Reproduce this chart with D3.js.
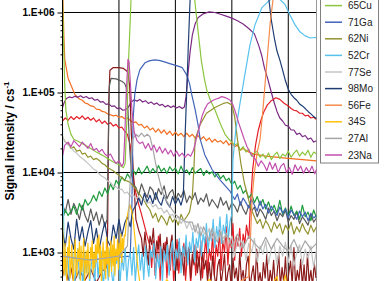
<!doctype html>
<html lang="en">
<head>
<meta charset="utf-8">
<title>Signal intensity profile</title>
<script src="https://d3js.org/d3.v7.min.js"></script>
<style>
    body { margin: 0; background: #fff; }
    svg { display: block; font-family: Arial, "Liberation Sans", sans-serif; }
</style>
</head>
<body>
<svg id="chart" width="391" height="281"></svg>
<script>
// traces are [time, counts per second];
// the noisy stretches are kept as plain value lists on an even time step
function sampled(t0, step, values) {
    return values.map(function(v, i) { return [+(t0 + i * step).toFixed(3), v]; });
}

var s34Low = [800,520,1300,610,450,1150,900,1600,480,700,1250,560,420,980,1450,620,510,1100,780,1350,
    450,1200,580,900,1500,400,760,1050,530,1300,690,470,1150,850,1400,560,1000,640,1250,760,
    1500,980,1650,540,1200,430,880,1350,600,1050,470,1550,720,1150,500,950,1400,580,1250,680,
    1600,520,1100,800,1450,620,1300,900,1700,750,1500,1100,1650];
var cr52Low = [900,520,1050,430,760,1000,380,640,1120,470,820,350,980,560,1080,420,700,930,390,1150,
    480,860,1020,370,640,990,450,1100,560,380,920,730,1050,410,880,600,1130,440,790,1000,
    520,1150,430,870,1250,600,980,460,1200,720,500,1080,860,1300,470,950,640,1180,420,1050,
    780,1250,520,960,1400,600,1100,850,1500,560,1200,900,1650,700,1350,1000,1800,760,1500,1150,
    2000,900,1700,1300,2300,1000,1900,1400,2600,1150,2100,1500,2800,1300,2200,1700,3000,1500,2500];
var maroonLow = [1500,900,1800,1100,700,1600,1250,2000,850,1400,1100,1700,650,1300,950,1550,800,1200,1650,700,
    1100,600,1350,900,1000,520,1250,750,1100,480,950,700,1200,560,880,450,1000,620,800,430,
    750,420,900,520,380,680,820,400,600,950,380,560,700,350,850,480,640,380,1000,450,
    600,380,720,900,350,520,680,380,1100,420,560,380,750,480,950,360,600,420,800,380,
    520,1000,380,650,420,880,360,560,780,400,1150,380,600,450,820,380,700,360,950,420,
    600,380,750,480];
var redLow = [1200,650,1400,520,900,1600,450,1100,760,1350,480,980,600,1250,420,850,1450,550,1000,700,
    1300,450,900,1150,400,760,1250,520,1050,680,1400,480,900,1600,560,1100,800,1700,520,1250,
    900,1900,600,1400,1000,2100,700,1500,1150,2300,800,1600,1200,2000,900,1700,1300,2200];
var darkGrayTail = [6.5e3,5.2e3,7.2e3,5.8e3,4.9e3,6.6e3,6.0e3,4.6e3,6.3e3,5.3e3,6.8e3,4.7e3,5.6e3,6.1e3,4.4e3,5.5e3,4.9e3,6.0e3,4.2e3,5.1e3,
    4.6e3,5.6e3,4.0e3,4.8e3,4.3e3,5.4e3,3.8e3,4.6e3,4.1e3,3.6e3,4.9e3,3.9e3,4.4e3,3.4e3,4.2e3,3.8e3,3.2e3,4.3e3,3.5e3,3.0e3,
    3.9e3,3.3e3,3.7e3,2.8e3,3.5e3,3.1e3,2.6e3,3.6e3,2.9e3,3.3e3,2.5e3,3.1e3,2.8e3,3.4e3,2.4e3,2.9e3,2.6e3,3.2e3,2.3e3,2.8e3,
    2.5e3,2.2e3,3.0e3,2.4e3,2.7e3];
var greenAll = [2.6e3,3.4e3,2.9e3,3.3e3,3.8e3,3.0e3,4.1e3,3.4e3,4.6e3,3.9e3,4.3e3,5.2e3,4.4e3,5.8e3,5.0e3,6.4e3,5.4e3,7.2e3,6.1e3,8.0e3,
    7.0e3,8.8e3,7.9e3,9.6e3,8.5e3,1.08e4,9.4e3,1.15e4,9.6e3,1.05e4,1.2e4,9.8e3,1.12e4,1.0e4,1.22e4,1.03e4,1.13e4,9.7e3,1.18e4,1.05e4,
    1.14e4,9.6e3,1.2e4,1.0e4,1.08e4,9.4e3,1.15e4,9.8e3,1.05e4,1.12e4,9.2e3,1.06e4,9.6e3,1.02e4,8.8e3,9.8e3,8.4e3,9.2e3,7.9e3,8.5e3,
    7.0e3,7.8e3,6.2e3,6.9e3,5.5e3,6.0e3,4.8e3,5.4e3,4.2e3,5.0e3,3.9e3,4.6e3,3.5e3,4.3e3,3.3e3,3.9e3,3.1e3,4.5e3,3.0e3,3.6e3,
    2.8e3,3.8e3,2.9e3,3.3e3,2.6e3,3.9e3,2.8e3,3.2e3,2.5e3,3.4e3,2.7e3];
var se77All = [2.8e4,2.4e4,2.2e4,2.1e4,1.85e4,1.75e4,1.6e4,1.5e4,1.4e4,1.3e4,1.2e4,1.1e4,1.05e4,9.6e3,9.0e3,8.6e3,7.8e3,7.5e3,6.8e3,6.6e3,
    6.1e3,6.2e3,5.5e3,5.7e3,5.0e3,5.3e3,4.7e3,5.0e3,4.3e3,4.6e3,4.1e3,4.3e3,3.7e3,4.0e3,3.5e3,3.6e3,3.1e3,3.4e3,2.9e3,3.0e3,
    2.6e3,2.8e3,2.3e3,2.6e3,2.0e3,2.4e3,1.9e3,2.2e3,1.7e3,2.1e3,1.8e3,1.6e3,2.0e3,1.5e3,1.8e3,1.4e3,1.9e3,1.5e3,1.7e3,1.3e3,
    1.6e3,900,1.5e3,1.1e3,1.4e3,800,1.3e3,1.0e3,1.5e3,760,1.2e3,950,1.4e3,720,1.1e3,1.3e3,700,1.2e3,900,1.35e3,
    750,1.2e3,680,1.0e3,1.25e3,700,1.1e3,850,1.2e3,650,1.1e3];
var mo98Low = [1.8e3,1.2e3,2.4e3,1.5e3,1.1e3,2.6e3,1.4e3,2.1e3,1.2e3,1.8e3,2.5e3,1.3e3,2.0e3,1.1e3,1.7e3,2.4e3,1.4e3,1.2e3,2.2e3,1.5e3,
    2.6e3,1.6e3,2.3e3,2.8e3,2.1e3,3.4e3,3.9e3,4.8e3,3.9e3,5.5e3,4.3e3,5.2e3,4.1e3,5.6e3,4.4e3,3.9e3,5.2e3,4.2e3,3.7e3,5.0e3,
    4.0e3,4.8e3,3.9e3];
var cu65Tail = [2.4e4,2.2e4,2.3e4,1.9e4,2.1e4,1.8e4,1.95e4,1.6e4,1.75e4,1.85e4,1.55e4,1.7e4,1.5e4,1.75e4,1.45e4,1.65e4,1.8e4,1.5e4,1.7e4,1.6e4,
    1.85e4,1.55e4,1.75e4,1.9e4,1.6e4,1.8e4,1.65e4,1.9e4,1.55e4,1.8e4,1.7e4];
var ga71Tail = [4.6e3,5.4e3,3.9e3,4.8e3,4.2e3,3.6e3,4.6e3,3.9e3,3.3e3,4.4e3,3.5e3,4.0e3,3.1e3,3.8e3,3.3e3,2.9e3,3.7e3,3.1e3,3.5e3,2.7e3,
    3.4e3,3.0e3,2.6e3,3.3e3,2.8e3,3.2e3,2.5e3,3.1e3,2.7e3,2.9e3];
var ni62Mid = [3.4e3,2.7e3,3.1e3,2.4e3,2.9e3,2.6e3,2.2e3,2.9e3,2.4e3,2.7e3,2.2e3,3.0e3,2.5e3,2.8e3,3.2e3];
var ni62Tail = [2.8e3,2.3e3,2.6e3,2.0e3,2.5e3,2.2e3,1.8e3,2.4e3,2.0e3,2.3e3,1.7e3,2.2e3,1.9e3,2.4e3,1.7e3,2.1e3,1.8e3,2.3e3,1.9e3,1.7e3,2.2e3,1.8e3,2.1e3];

var traceOrange = [[0,3e6],[0.01,1.2e6],[0.025,5e5],[0.04,2.6e5],[0.1,1.5e5],[0.17,1.15e5],[0.22,9.4e4],[0.3,8.3e4],[0.35,8.0e4],[0.4,7.4e4],[0.45,7.2e4],[0.5,6.8e4],[0.55,6.7e4],[0.6,6.2e4],[0.66,6.1e4],[0.7,5.8e4],[0.75,5.7e4],[0.8,5.4e4],[0.84,5.3e4],[0.9,5.1e4],[0.95,5.2e4],[1.0,4.9e4],[1.05,5.0e4],[1.1,4.7e4],[1.15,4.8e4],[1.2,4.5e4],[1.25,4.2e4],[1.3,4.3e4],[1.35,3.9e4],[1.4,4.0e4],[1.45,3.6e4],[1.5,3.8e4],[1.55,3.4e4],[1.6,3.6e4],[1.65,3.2e4],[1.7,3.5e4],[1.75,3.1e4],[1.8,3.4e4],[1.85,3.0e4],[1.9,3.3e4],[1.95,2.9e4],[2.0,3.2e4],[2.05,2.9e4],[2.1,3.1e4],[2.15,2.8e4],[2.2,3.1e4],[2.25,2.8e4],[2.3,3.0e4],[2.35,2.7e4],[2.4,2.9e4],[2.45,2.6e4],[2.5,2.8e4],[2.55,2.5e4],[2.6,2.7e4],[2.65,2.4e4],[2.7,2.6e4],[2.75,2.4e4],[2.8,2.5e4],[2.85,2.3e4],[2.9,2.5e4],[2.95,2.2e4],[3.0,2.4e4],[3.05,2.1e4],[3.1,2.2e4],[3.15,1.9e4],[3.2,2.0e4],[3.3,1.8e4],[3.4,1.7e4],[3.6,1.6e4],[4.0,1.5e4],[4.5,1.4e4]];
var tracePurple = [[0,6.5e4],[0.03,7.5e4],[0.07,8.4e4],[0.12,8.8e4],[0.17,8.6e4],[0.22,9.0e4],[0.27,8.7e4],[0.32,9.1e4],[0.37,8.6e4],[0.42,8.9e4],[0.47,8.4e4],[0.52,8.6e4],[0.57,8.0e4],[0.62,8.2e4],[0.67,7.6e4],[0.72,7.7e4],[0.77,7.1e4],[0.82,7.2e4],[0.87,6.7e4],[0.92,6.8e4],[0.97,6.3e4],[1.02,6.4e4],[1.07,6.0e4],[1.12,6.1e4],[1.17,6.6e4],[1.22,7.6e4],[1.27,8.1e4],[1.32,7.8e4],[1.37,8.2e4],[1.42,7.6e4],[1.47,7.9e4],[1.52,7.3e4],[1.57,7.6e4],[1.62,7.1e4],[1.67,7.4e4],[1.72,6.9e4],[1.77,7.1e4],[1.82,6.6e4],[1.87,6.9e4],[1.92,6.5e4],[1.97,6.8e4],[2.02,6.4e4],[2.07,6.7e4],[2.12,6.3e4],[2.16,6.6e4],[2.19,9e4],[2.22,1.6e5],[2.26,3.2e5],[2.3,5.2e5],[2.35,7.2e5],[2.4,8.6e5],[2.5,9.7e5],[2.6,1.02e6],[2.7,1.0e6],[2.8,9.5e5],[2.9,9.0e5],[3.0,8.5e5],[3.1,7.9e5],[3.2,7.2e5],[3.3,6.3e5],[3.4,5.4e5],[3.48,3.8e5],[3.53,2.9e5],[3.58,2.0e5],[3.64,1.45e5],[3.7,1.0e5],[3.75,7.5e4],[3.8,5.8e4],[3.85,4.8e4],[3.9,4.4e4],[3.95,3.9e4],[4.0,3.8e4],[4.05,3.4e4],[4.1,3.4e4],[4.15,3.0e4],[4.2,3.1e4],[4.25,2.8e4],[4.3,2.9e4],[4.35,2.6e4],[4.4,2.7e4],[4.45,2.4e4],[4.5,2.5e4]];
var traceRed = [[0,4.4e4],[0.05,4.8e4],[0.1,4.5e4],[0.15,5.0e4],[0.2,4.6e4],[0.25,5.0e4],[0.3,4.7e4],[0.35,5.1e4],[0.4,4.6e4],[0.45,4.9e4],[0.5,4.5e4],[0.55,4.8e4],[0.6,4.3e4],[0.65,4.6e4],[0.7,4.1e4],[0.75,4.4e4],[0.8,4.0e4],[0.85,4.2e4],[0.9,3.8e4],[0.95,4.0e4],[1.0,3.6e4],[1.05,3.7e4],[1.1,3.3e4],[1.15,3.0e4],[1.2,2.2e4],[1.23,1.3e4],[1.26,8e3],[1.3,5.5e3],[1.35,4e3],[1.4,3e3],[1.45,2.2e3],[1.5,1.6e3]]
    .concat(sampled(1.55, 0.03, redLow),
    [[3.3,1.5e3],[3.33,4e3],[3.37,1.1e4],[3.42,2.2e4],[3.47,3.4e4],[3.52,4.6e4],[3.57,5.8e4],[3.63,7.0e4],[3.7,7.9e4],[3.78,8.6e4],[3.85,8.2e4],[3.92,7.4e4],[4.0,6.8e4],[4.05,6.3e4],[4.1,6.0e4],[4.15,5.9e4],[4.2,5.5e4],[4.25,5.5e4],[4.3,5.1e4],[4.35,5.2e4],[4.4,4.8e4],[4.45,4.9e4],[4.5,4.6e4]]);
var traceMaroon = [[0,500],[0.05,700],[0.1,450],[0.15,650],[0.2,420],[0.3,600],[0.4,450],[0.5,620],[0.6,420],[0.7,580],[0.78,650],[0.8,2e3],[0.82,8e4],[0.84,1.9e5],[0.9,2.05e5],[1.0,2.05e5],[1.08,2.0e5],[1.12,1.9e5],[1.16,1.8e5],[1.19,1.2e5],[1.22,3e4],[1.25,1.2e4],[1.3,2.6e3],[1.35,1.9e3]]
    .concat(sampled(1.4, 0.03, maroonLow));
var traceDarkGray = [[0,4e3],[0.05,3.2e3],[0.1,4.6e3],[0.15,3.0e3],[0.2,4.1e3],[0.25,3.4e3],[0.3,2.6e3],[0.35,3.9e3],[0.4,2.9e3],[0.45,2.4e3],[0.5,3.5e3],[0.55,2.5e3],[0.6,3.2e3],[0.65,2.2e3],[0.7,3.0e3],[0.75,2.1e3],[0.79,2.6e3],[0.81,2e4],[0.83,1.2e5],[0.86,1.5e5],[0.95,1.48e5],[1.05,1.38e5],[1.1,1.3e5],[1.13,1.15e5],[1.16,6e4],[1.19,2e4],[1.22,1.0e4],[1.26,7.0e3]]
    .concat(sampled(1.3, 0.05, darkGrayTail));
var traceGreen = sampled(0, 0.05, greenAll);
var cu65 = [[0,1.5e6],[0.02,4e5],[0.04,1.2e5],[0.06,6e4],[0.1,4e4],[0.15,3e4],[0.2,2.6e4],[0.3,2.4e4],[0.4,2.2e4],[0.5,2.0e4],[0.6,1.8e4],[0.7,1.65e4],[0.8,1.5e4],[0.9,1.35e4],[1.0,1.25e4],[1.08,1.15e4],[1.11,1.3e4],[1.14,4.6e4],[1.17,2.5e5],[1.2,8e5],[1.23,3e6],[2.3,3e6],[2.34,1.5e6],[2.4,6e5],[2.46,2.5e5],[2.52,1.4e5],[2.56,1.05e5],[2.62,8e4],[2.7,6.1e4],[2.8,4.0e4],[2.88,3.0e4],[2.95,2.6e4]]
    .concat(sampled(3.0, 0.05, cu65Tail));
var ga71 = [[0,900],[0.4,800],[0.8,850],[1.2,900],[1.23,4e3],[1.25,4.6e4],[1.28,9.4e4],[1.32,1.44e5],[1.37,1.92e5],[1.46,2.35e5],[1.55,2.5e5],[1.64,2.56e5],[1.73,2.5e5],[1.82,2.4e5],[1.9,2.3e5],[1.99,2.2e5],[2.06,2.12e5],[2.12,2.05e5],[2.2,1.66e5],[2.25,1.3e5],[2.29,9.4e4],[2.35,6.1e4],[2.4,4.0e4],[2.44,2.6e4],[2.52,1.67e4],[2.65,1.09e4],[2.79,8.1e3],[2.97,5.8e3]]
    .concat(sampled(3.05, 0.05, ga71Tail));
var ni62 = [[0,2.8e4],[0.05,2.4e4],[0.1,2.3e4],[0.15,2.0e4],[0.2,2.1e4],[0.25,1.85e4],[0.31,1.9e4],[0.35,1.7e4],[0.4,1.75e4],[0.45,1.55e4],[0.5,1.6e4],[0.55,1.45e4],[0.6,1.5e4],[0.66,1.4e4],[0.7,1.3e4],[0.75,1.25e4],[0.8,1.15e4],[0.85,1.1e4],[0.9,1.05e4],[0.95,9.8e3],[1.0,9.2e3],[1.05,8.6e3],[1.1,8.0e3],[1.15,7.8e3],[1.2,7.5e3],[1.25,6.8e3],[1.3,6.2e3],[1.37,5.3e3],[1.45,4.4e3],[1.5,3.8e3]]
    .concat(sampled(1.55, 0.05, ni62Mid),
    [[2.3,5e3],[2.33,1.2e4],[2.35,2.6e4],[2.44,4.0e4],[2.55,5.5e4],[2.7,6.5e4],[2.85,7.3e4],[2.92,7.5e4],[3.0,7.0e4],[3.05,5.0e4],[3.1,2.6e4],[3.16,1.3e4],[3.22,7.5e3],[3.3,4.5e3],[3.35,3.4e3]],
    sampled(3.4, 0.05, ni62Tail));
var cr52 = [[0,3.5e4],[0.015,4e3]]
    .concat(sampled(0.03, 0.03, cr52Low),
    [[3.0,3e3],[3.02,1.45e4],[3.07,3.4e4],[3.14,7e4],[3.23,1.66e5],[3.32,3.9e5],[3.41,7e5],[3.53,1.14e6],[3.67,1.43e6],[3.81,1.55e6],[3.94,1.27e6],[4.03,9.3e5],[4.12,7e5],[4.21,5.7e5],[4.3,5.1e5],[4.39,4.8e5],[4.5,4.9e5]]);
var se77 = sampled(0, 0.05, se77All);
var mo98 = sampled(0, 0.05, mo98Low)
    .concat([[2.14,5e3],[2.17,2.6e4],[2.2,1e5],[2.23,4e5],[2.26,1.4e6],[2.3,3e6],[3.6,3e6],[3.66,1.4e6],[3.7,8e5],[3.76,4.5e5],[3.8,3.3e5],[3.85,2.56e5],[3.9,1.9e5],[3.95,1.4e5],[4.0,1.1e5],[4.05,9.5e4],[4.1,8.6e4],[4.15,8.0e4],[4.2,7.2e4],[4.25,6.8e4],[4.3,6.3e4],[4.35,5.8e4],[4.4,5.4e4],[4.45,5.0e4],[4.5,4.7e4]]);
var fe56 = [[0,400],[0.5,350],[1.0,380],[1.5,350],[2.0,380],[2.5,350],[3.0,380],[3.3,500],[3.33,1.5e3],[3.36,5e3],[3.4,1.0e4],[3.45,1.8e4],[3.5,2.6e4],[3.55,6e4],[3.6,1.6e5],[3.64,3.4e5],[3.68,7.5e5],[3.73,1.45e6],[3.78,3e6],[4.5,3e6]];
var s34 = [[0,3e3]]
    .concat(sampled(0.015, 0.015, s34Low),
    [[1.11,1.6e3],[1.13,2.4e3],[1.16,3.2e3],[1.19,4.0e3],[1.22,3.4e3],[1.25,2.6e3],[1.28,1.6e3],[1.31,1.0e3],[1.34,600],[1.37,420],[1.45,300],[1.6,420],[1.7,300],[1.85,460],[2.0,320],[2.2,440],[2.4,300],[2.6,460],[2.8,320],[3.0,400],[3.2,300],[3.4,380],[3.6,300],[3.8,500],[3.85,300],[3.95,520],[4.0,300],[4.2,420],[4.5,300]]);
var al27 = [[0,900],[0.5,800],[1.0,900],[1.15,1.2e3],[1.2,8e3],[1.24,2.6e4],[1.3,3.0e4],[1.35,2.8e4],[1.4,3.1e4],[1.45,2.8e4],[1.5,3.0e4],[1.55,2.8e4],[1.6,2.0e4],[1.65,1.3e4],[1.7,9e3],[1.75,6.5e3],[1.8,5e3],[1.9,3.8e3],[2.0,3e3],[2.1,2.6e3],[2.2,2.4e3],[2.3,2.4e3],[2.35,1.8e3],[2.4,2.3e3],[2.45,1.6e3],[2.5,2.1e3],[2.55,1.7e3],[2.6,1.4e3],[2.65,2.0e3],[2.7,1.5e3],[2.75,1.35e3],[2.8,1.8e3],[2.85,1.3e3],[2.9,1.75e3],[2.95,1.45e3],[3.0,1.2e3],[3.1,1.7e3],[3.2,1.15e3],[3.3,1.6e3],[3.4,1.3e3],[3.5,1.1e3],[3.6,1.55e3],[3.7,1.1e3],[3.8,1.5e3],[3.9,1.2e3],[4.0,1.05e3],[4.1,1.45e3],[4.2,1.0e3],[4.3,1.4e3],[4.4,1.1e3],[4.5,1.3e3]];
var na23 = [[0,1.6e4],[0.04,2.2e4],[0.1,2.4e4],[0.15,2.1e4],[0.2,2.5e4],[0.25,2.3e4],[0.3,2.1e4],[0.35,2.4e4],[0.4,2.2e4],[0.45,2.0e4],[0.5,2.3e4],[0.55,1.9e4],[0.6,2.0e4],[0.65,1.8e4],[0.7,1.95e4],[0.75,1.7e4],[0.8,1.6e4],[0.85,1.7e4],[0.9,1.45e4],[0.95,1.3e4],[1.0,1.4e4],[1.05,1.2e4],[1.08,1.3e4],[1.1,2.5e4],[1.13,1.0e5],[1.16,2.6e5],[1.18,2.4e5],[1.2,1.4e5],[1.23,6e4],[1.27,3.2e4],[1.32,2.5e4],[1.37,2.3e4],[1.42,2.4e4],[1.47,2.0e4],[1.52,2.3e4],[1.57,1.9e4],[1.62,2.2e4],[1.67,1.8e4],[1.72,2.1e4],[1.77,1.75e4],[1.82,2.0e4],[1.87,1.7e4],[1.92,1.9e4],[1.97,1.6e4],[2.02,1.85e4],[2.07,1.6e4],[2.12,1.75e4],[2.17,1.55e4],[2.22,1.7e4],[2.27,1.6e4],[2.32,1.9e4],[2.37,2.6e4],[2.42,3.6e4],[2.47,5e4],[2.52,6.2e4],[2.57,7.2e4],[2.62,7.6e4],[2.67,8.0e4],[2.72,8.3e4],[2.77,8.5e4],[2.82,8.9e4],[2.87,8.7e4],[2.92,8.4e4],[2.97,8.0e4],[3.02,7.0e4],[3.07,5.5e4],[3.12,4.2e4],[3.17,3.3e4],[3.22,2.6e4],[3.27,2.1e4],[3.32,1.8e4],[3.37,1.6e4],[3.42,1.45e4],[3.47,1.2e4],[3.52,1.4e4],[3.57,1.25e4],[3.62,1.05e4],[3.67,1.35e4],[3.72,1.1e4],[3.77,1.3e4],[3.82,1.0e4],[3.87,1.2e4],[3.92,1.3e4],[3.97,1.0e4],[4.02,1.15e4],[4.07,9.5e3],[4.12,1.25e4],[4.17,1.05e4],[4.22,1.2e4],[4.27,9.8e3],[4.32,1.15e4],[4.37,1.0e4],[4.42,1.2e4],[4.47,9.6e3],[4.5,1.1e4]];

// drawing order follows the legend; the first six traces have their legend rows above the picture
var seriesNames  = [null, null, null, null, null, null, "65Cu", "71Ga", "62Ni", "52Cr", "77Se", "98Mo", "56Fe", "34S", "27Al", "23Na"];
var seriesData   = [traceOrange, tracePurple, traceRed, traceMaroon, traceDarkGray, traceGreen, cu65, ga71, ni62, cr52, se77, mo98, fe56, s34, al27, na23];
var seriesColors = ["#f36f21", "#7b2a83", "#e41e26", "#8b1a1a", "#595959", "#1e9b3c", "#8cc63f", "#4163b8", "#939330", "#58c2ee", "#c4c4c4", "#1f3d73", "#f68b4a", "#ffc20e", "#a6a6a6", "#c24fae"];

var yTicks = [1e3, 1e4, 1e5, 1e6];
var yTickLabels = ["1.E+03", "1.E+04", "1.E+05", "1.E+06"];
var xGrid = [1, 2, 3, 4];

var svg = d3.select("#chart");

var x = d3.scaleLinear().domain([0, 4.5]).range([62.5, 316.5]);
var y = d3.scaleLog().domain([1e3, 1e6]).range([252.5, 12.5]);

svg.append("defs").append("clipPath").attr("id", "plot-clip")
    .append("rect")
    .attr("x", 62.5).attr("y", 0)
    .attr("width", 254).attr("height", 281);

// grid
var grid = svg.append("g");
grid.selectAll("line.h")
    .data(yTicks)
    .enter().append("line")
    .attr("class", "h")
    .attr("x1", x(0)).attr("x2", x(4.5))
    .attr("y1", function(d) { return y(d); })
    .attr("y2", function(d) { return y(d); })
    .attr("stroke", "#000").attr("stroke-width", 1);
grid.selectAll("line.v")
    .data(xGrid.concat([4.5]))
    .enter().append("line")
    .attr("class", "v")
    .attr("x1", function(d) { return x(d); })
    .attr("x2", function(d) { return x(d); })
    .attr("y1", 0).attr("y2", 281)
    .attr("stroke", function(d) { return d === 4.5 ? "#999" : "#000"; })
    .attr("stroke-width", 1);

// traces
var line = d3.line()
    .x(function(d) { return x(d[0]); })
    .y(function(d) { return y(d[1]); });

svg.append("g")
    .attr("clip-path", "url(#plot-clip)")
    .selectAll("path")
    .data(seriesData)
    .enter().append("path")
    .attr("d", line)
    .attr("fill", "none")
    .attr("stroke", function(d, i) { return seriesColors[i]; })
    .attr("stroke-width", 1.2)
    .attr("stroke-linejoin", "round");

// y axis: major ticks with labels, then minor ticks
var minorTicks = [];
[1e2, 1e3, 1e4, 1e5].forEach(function(dec) {
    for (var k = 2; k <= 9; k++) minorTicks.push(dec * k);
});

var yAxis = svg.append("g")
    .attr("transform", "translate(62.5,0)")
    .call(d3.axisLeft(y).tickValues(yTicks).tickSize(5).tickPadding(3)
        .tickFormat(function(d, i) { return yTickLabels[i]; }));
yAxis.select(".domain").remove();
yAxis.selectAll("text")
    .attr("font-family", "Arial, 'Liberation Sans', sans-serif")
    .attr("font-size", 10).attr("font-weight", "bold").attr("fill", "#000");

var yMinor = svg.append("g")
    .attr("transform", "translate(62.5,0)")
    .call(d3.axisLeft(y).tickValues(minorTicks).tickSize(2).tickFormat(""));
yMinor.select(".domain").remove();

svg.append("line")
    .attr("x1", 62.5).attr("x2", 62.5).attr("y1", 0).attr("y2", 281)
    .attr("stroke", "#000");

// axis title
var title = svg.append("text")
    .attr("transform", "translate(14,141) rotate(-90)")
    .attr("text-anchor", "middle")
    .attr("font-size", 12).attr("font-weight", "bold").attr("fill", "#000");
title.append("tspan").text("Signal intensity / cs");
title.append("tspan").attr("dy", -5).attr("font-size", 8).text("-1");

// legend
var legendRows = [];
seriesNames.forEach(function(n, i) { if (n) legendRows.push(i); });
var rowH = 16.6, lastRowY = 155;

var legend = svg.append("g");
legend.append("rect")
    .attr("x", 320.5).attr("y", -20)
    .attr("width", 58).attr("height", 183)
    .attr("fill", "#fff").attr("stroke", "#808080");

var rows = legend.selectAll("g.row")
    .data(legendRows)
    .enter().append("g")
    .attr("class", "row")
    .attr("transform", function(d, i) {
        return "translate(0," + (lastRowY - (legendRows.length - 1 - i) * rowH) + ")";
    });
rows.append("line")
    .attr("x1", 325).attr("x2", 342)
    .attr("stroke", function(d) { return seriesColors[d]; })
    .attr("stroke-width", 1.5);
rows.append("text")
    .attr("x", 348).attr("dy", "0.35em")
    .attr("font-size", 10).attr("fill", "#222")
    .text(function(d) { return seriesNames[d]; });
</script>
</body>
</html>
